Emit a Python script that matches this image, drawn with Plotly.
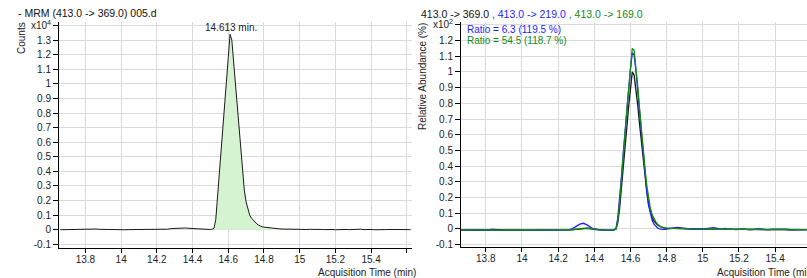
import plotly.graph_objects as go

# ---------------- data ----------------
times = [13.66, 13.68, 13.70, 13.72, 13.74, 13.76, 13.78, 13.80, 13.82, 13.84,
         13.86, 13.88, 13.90, 13.92, 13.94, 13.96, 13.98, 14.00, 14.02, 14.04,
         14.06, 14.08, 14.10, 14.12, 14.14, 14.16, 14.18, 14.20, 14.22, 14.24,
         14.26, 14.28, 14.30, 14.32, 14.34, 14.36, 14.38, 14.40, 14.42, 14.44,
         14.46, 14.48, 14.50,
         14.51, 14.52, 14.53, 14.54, 14.55, 14.56, 14.57, 14.58, 14.59, 14.60,
         14.61, 14.62, 14.63, 14.64, 14.65, 14.66, 14.67, 14.68, 14.69, 14.70,
         14.71, 14.72, 14.73, 14.74, 14.75, 14.76, 14.77, 14.78, 14.79, 14.80,
         14.82, 14.84, 14.86, 14.88, 14.90, 14.92, 14.94, 14.96, 14.98, 15.00,
         15.02, 15.04, 15.06, 15.08, 15.10, 15.12, 15.14, 15.16, 15.18, 15.20,
         15.22, 15.24, 15.26, 15.28, 15.30, 15.32, 15.34, 15.36, 15.38, 15.40,
         15.42, 15.44, 15.46, 15.48, 15.50, 15.52, 15.54, 15.56, 15.58, 15.60,
         15.62]

# MRM 413.0 -> 369.0, counts x10^4
counts_369 = [0.000, 0.001, 0.000, -0.001, 0.000, 0.001, 0.002, 0.003, 0.004, 0.007,
              0.005, 0.003, 0.002, 0.002, 0.001, 0.001, 0.000, -0.001, 0.000, 0.001,
              0.001, 0.000, -0.001, 0.000, 0.001, 0.000, -0.001, 0.000, 0.001, 0.002,
              0.004, 0.008, 0.010, 0.011, 0.013, 0.012, 0.010, 0.008, 0.006, 0.004,
              0.002, 0.001, 0.002,
              0.004, 0.010, 0.070, 0.220, 0.370, 0.530, 0.700, 0.860, 1.020, 1.180,
              1.340, 1.300, 1.150, 1.000, 0.840, 0.680, 0.520, 0.380, 0.270, 0.190,
              0.140, 0.100, 0.080, 0.065, 0.050, 0.040, 0.032, 0.025, 0.020, 0.018,
              0.014, 0.012, 0.010, 0.007, 0.005, 0.004, 0.003, 0.002, 0.003, 0.001,
              0.000, 0.002, 0.003, 0.001, 0.000, 0.002, 0.001, 0.003, 0.002, 0.000,
              0.002, 0.004, 0.002, 0.001, 0.003, 0.002, 0.004, 0.001, 0.003, 0.002,
              0.000, 0.002, 0.003, 0.001, 0.002, 0.001, 0.003, 0.002, 0.001, 0.002,
              0.001]

# Relative abundance x10^2 (%)
rel_369 = [-0.008, -0.008, -0.009, -0.008, -0.008, -0.007, -0.008, -0.007, -0.005, -0.003,
           -0.005, -0.007, -0.008, -0.008, -0.008, -0.009, -0.008, -0.009, -0.008, -0.008,
           -0.008, -0.009, -0.008, -0.008, -0.008, -0.009, -0.008, -0.008, -0.008, -0.007,
           -0.006, -0.004, -0.002, 0.000, 0.002, 0.003, 0.001, -0.002, -0.004, -0.006,
           -0.007, -0.008, -0.008,
           -0.006, 0.000, 0.040, 0.130, 0.250, 0.380, 0.520, 0.650, 0.780, 0.900,
           1.000, 0.980, 0.900, 0.790, 0.670, 0.550, 0.440, 0.330, 0.240, 0.160,
           0.110, 0.075, 0.050, 0.035, 0.025, 0.017, 0.012, 0.008, 0.006, 0.005,
           0.004, 0.003, 0.003, 0.002, 0.001, 0.000, 0.000, -0.001, -0.001, -0.002,
           -0.002, -0.001, -0.002, -0.003, -0.002, -0.003, -0.002, -0.003, -0.003, -0.002,
           -0.003, -0.004, -0.003, -0.003, -0.004, -0.003, -0.004, -0.004, -0.003, -0.004,
           -0.004, -0.005, -0.004, -0.004, -0.005, -0.004, -0.005, -0.004, -0.005, -0.004,
           -0.005]

rel_219 = [-0.009, -0.006, -0.008, -0.009, -0.008, -0.008, -0.009, -0.008, -0.007, -0.006,
           -0.008, -0.009, -0.008, -0.008, -0.009, -0.008, -0.007, -0.008, -0.009, -0.008,
           -0.008, -0.009, -0.008, -0.008, -0.009, -0.008, -0.008, -0.009, -0.008, -0.008,
           -0.006, 0.002, 0.015, 0.030, 0.036, 0.026, 0.010, -0.002, -0.006, -0.008,
           -0.008, -0.009, -0.008,
           -0.006, 0.000, 0.070, 0.190, 0.330, 0.480, 0.630, 0.770, 0.900, 1.020,
           1.120, 1.110, 1.010, 0.880, 0.740, 0.600, 0.470, 0.350, 0.240, 0.150,
           0.090, 0.055, 0.030, 0.015, 0.006, 0.001, -0.002, -0.003, -0.002, 0.000,
           0.003, 0.007, 0.009, 0.006, 0.002, 0.000, -0.002, -0.001, -0.003, -0.002,
           0.002, 0.006, 0.008, 0.003, -0.002, 0.003, 0.001, -0.003, -0.004, -0.002,
           0.001, -0.003, -0.006, -0.004, 0.001, 0.000, -0.004, -0.006, -0.003, -0.002,
           -0.005, -0.004, -0.002, -0.005, -0.006, -0.003, -0.004, -0.006, -0.004, -0.003,
           -0.005]

rel_169 = [-0.008, -0.008, -0.008, -0.008, -0.009, -0.008, -0.008, -0.008, -0.007, -0.006,
           -0.007, -0.008, -0.008, -0.008, -0.008, -0.008, -0.009, -0.008, -0.008, -0.008,
           -0.008, -0.008, -0.009, -0.008, -0.008, -0.008, -0.008, -0.008, -0.008, -0.008,
           -0.007, -0.005, -0.002, 0.002, 0.005, 0.006, 0.003, -0.001, -0.004, -0.006,
           -0.007, -0.008, -0.008,
           -0.006, 0.000, 0.060, 0.170, 0.300, 0.450, 0.610, 0.760, 0.900, 1.030,
           1.150, 1.140, 1.040, 0.910, 0.770, 0.630, 0.510, 0.390, 0.280, 0.190,
           0.130, 0.090, 0.065, 0.045, 0.030, 0.020, 0.012, 0.008, 0.005, 0.004,
           0.003, 0.003, 0.002, 0.002, 0.001, 0.000, 0.000, -0.001, -0.001, -0.001,
           -0.002, -0.001, -0.001, -0.002, -0.002, -0.002, -0.001, -0.002, -0.003, -0.002,
           -0.002, -0.003, -0.003, -0.002, -0.003, -0.003, -0.003, -0.004, -0.003, -0.003,
           -0.004, -0.004, -0.003, -0.004, -0.004, -0.004, -0.005, -0.004, -0.004, -0.005,
           -0.004]

peak_time = 14.613
peak_label = "14.613 min."
integ_start, integ_end = 14.52, 14.88

x_tickvals = [13.8, 14.0, 14.2, 14.4, 14.6, 14.8, 15.0, 15.2, 15.4]
x_ticktext = ["13.8", "14", "14.2", "14.4", "14.6", "14.8", "15", "15.2", "15.4"]
x_edge_ticks = [15.6]
y_tickvals_left = [-0.1, 0, 0.1, 0.2, 0.3, 0.4, 0.5, 0.6, 0.7, 0.8, 0.9, 1.0, 1.1, 1.2, 1.3, 1.4]
y_ticktext_left = ["-0.1", "0", "0.1", "0.2", "0.3", "0.4", "0.5", "0.6", "0.7", "0.8", "0.9",
                   "1", "1.1", "1.2", "1.3", "x10<sup>4</sup>"]
y_tickvals_right = [-0.1, 0, 0.1, 0.2, 0.3, 0.4, 0.5, 0.6, 0.7, 0.8, 0.9, 1.0, 1.1, 1.2, 1.3]
y_ticktext_right = ["-0.1", "0", "0.1", "0.2", "0.3", "0.4", "0.5", "0.6", "0.7", "0.8", "0.9",
                    "1", "1.1", "1.2", "x10<sup>2</sup>"]

# ---------------- figure ----------------
W, H = 807, 278
FONT = "Liberation Sans, Arial, Helvetica, sans-serif"
BLUE = "#1e1eff"
GREEN = "#12891a"
GRID = "#dadada"

fig = go.Figure()

fill_x = [t for t in times if integ_start <= t <= integ_end]
fill_y = [c for t, c in zip(times, counts_369) if integ_start <= t <= integ_end]
fig.add_trace(go.Scatter(x=fill_x, y=fill_y, mode="lines", fill="tozeroy",
                         fillcolor="#d6f3d1", line=dict(width=0, color="#d6f3d1"),
                         xaxis="x", yaxis="y", hoverinfo="skip", showlegend=False))
fig.add_trace(go.Scatter(x=times, y=counts_369, mode="lines",
                         line=dict(color="#1a1a1a", width=1),
                         xaxis="x", yaxis="y", showlegend=False))

fig.add_trace(go.Scatter(x=times, y=rel_369, mode="lines",
                         line=dict(color="#1a1a1a", width=1.3),
                         xaxis="x2", yaxis="y2", showlegend=False))
fig.add_trace(go.Scatter(x=times, y=rel_219, mode="lines",
                         line=dict(color=BLUE, width=1.3),
                         xaxis="x2", yaxis="y2", showlegend=False))
fig.add_trace(go.Scatter(x=times, y=rel_169, mode="lines",
                         line=dict(color=GREEN, width=1.3),
                         xaxis="x2", yaxis="y2", showlegend=False))

def px(xp):
    return xp / W

def py(yp):
    return 1 - yp / H

axis_common = dict(showline=True, linecolor="black", linewidth=1, ticks="outside",
                   ticklen=4, tickcolor="black", tickwidth=1, showgrid=True,
                   gridcolor=GRID, gridwidth=1, zeroline=False, automargin=False,
                   tickfont=dict(family=FONT, size=10, color="#222222"),
                   tickmode="array", fixedrange=True)

xminor = dict(tickmode="array", tickvals=x_edge_ticks, ticks="outside", ticklen=4,
              tickcolor="black", tickwidth=1, showgrid=True, gridcolor=GRID, gridwidth=1)

fig.update_layout(
    width=W, height=H, autosize=False,
    margin=dict(l=0, r=0, t=0, b=0, pad=0),
    paper_bgcolor="white", plot_bgcolor="white",
    font=dict(family=FONT, size=10, color="#222222"),
    showlegend=False,
    xaxis=dict(domain=[px(59), px(412)], range=[13.652, 15.629],
               tickvals=x_tickvals, ticktext=x_ticktext, anchor="y", minor=xminor,
               ticklabelstandoff=-2, **axis_common),
    yaxis=dict(domain=[py(248), py(22)], range=[-0.125, 1.424],
               tickvals=y_tickvals_left, ticktext=y_ticktext_left, anchor="x",
               **{**axis_common, "ticklen": 5}),
    xaxis2=dict(domain=[px(461), 1.0], range=[13.663, 15.576],
                tickvals=x_tickvals, ticktext=x_ticktext, anchor="y2", minor=xminor,
                ticklabelstandoff=-2, **axis_common),
    yaxis2=dict(domain=[py(247), py(22)], range=[-0.115, 1.318],
                tickvals=y_tickvals_right, ticktext=y_ticktext_right, anchor="x2",
                **{**axis_common, "ticklen": 5}),
)

ann = []
ann.append(dict(text="- MRM (413.0 -> 369.0) 005.d", x=px(16), y=py(13),
                xref="paper", yref="paper", xanchor="left", yanchor="middle",
                showarrow=False, font=dict(family=FONT, size=10.5, color="#111111")))
ann.append(dict(text=("413.0 -> 369.0"
                      f"<span style='color:{BLUE}'> , 413.0 -> 219.0</span>"
                      f"<span style='color:{GREEN}'> , 413.0 -> 169.0</span>"),
                x=px(419), y=py(14), xref="paper", yref="paper",
                xanchor="left", yanchor="middle", showarrow=False,
                font=dict(family=FONT, size=10.5, color="#111111")))
ann.append(dict(text="Ratio = 6.3 (119.5 %)", x=px(465), y=py(29),
                xref="paper", yref="paper", xanchor="left", yanchor="middle",
                showarrow=False, font=dict(family=FONT, size=10, color=BLUE)))
ann.append(dict(text="Ratio = 54.5 (118.7 %)", x=px(465), y=py(41),
                xref="paper", yref="paper", xanchor="left", yanchor="middle",
                showarrow=False, font=dict(family=FONT, size=10, color=GREEN)))
ann.append(dict(text=peak_label, x=peak_time, y=max(counts_369), xref="x", yref="y",
                xanchor="center", yanchor="bottom", yshift=-1, showarrow=False,
                font=dict(family=FONT, size=10, color="#222222")))
ann.append(dict(text="Counts", x=px(21), y=py(38), xref="paper", yref="paper",
                textangle=-90, xanchor="center", yanchor="middle", showarrow=False,
                font=dict(family=FONT, size=10, color="#222222")))
ann.append(dict(text="Relative Abundance (%)", x=px(422), y=py(77), xref="paper",
                yref="paper", textangle=-90, xanchor="center", yanchor="middle",
                showarrow=False, font=dict(family=FONT, size=10, color="#222222")))
ann.append(dict(text="Acquisition Time (min)", x=px(418), y=py(272), xref="paper",
                yref="paper", xanchor="right", yanchor="middle", showarrow=False,
                font=dict(family=FONT, size=10, color="#222222")))
ann.append(dict(text="Acquisition Time (min)", x=px(715), y=py(272), xref="paper",
                yref="paper", xanchor="left", yanchor="middle", showarrow=False,
                font=dict(family=FONT, size=10, color="#222222")))
fig.update_layout(annotations=ann)

# remove the browser's default 8px body margin so the figure sits at the page origin
fig.write_html("out.html", config={"displayModeBar": False},
               post_script="document.body.style.margin='0';document.body.style.overflow='hidden';")
